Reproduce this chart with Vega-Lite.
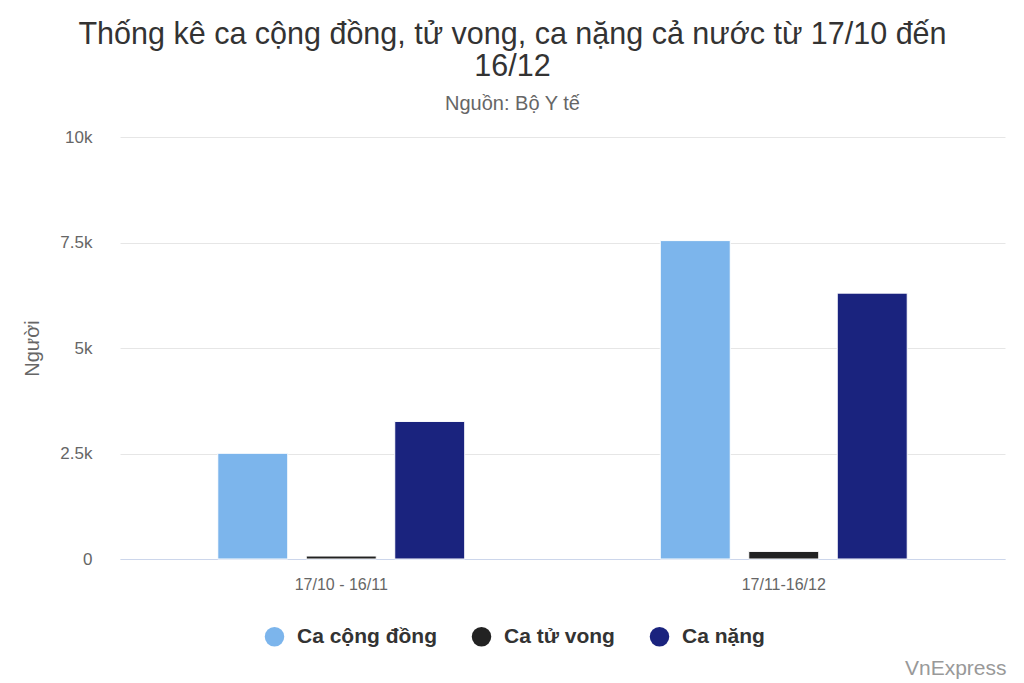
{
  "$schema": "https://vega.github.io/schema/vega-lite/v6.json",
  "width": 885,
  "height": 422,
  "autosize": {"type": "none"},
  "padding": {"left": 120, "top": 137, "right": 19, "bottom": 124},
  "background": "#ffffff",
  "config": {"font": "Liberation Sans", "view": {"stroke": null}},
  "title": {
    "text": ["Thống kê ca cộng đồng, tử vong, ca nặng cả nước từ 17/10 đến", "16/12"],
    "subtitle": "Nguồn: Bộ Y tế",
    "anchor": "middle",
    "dx": -50,
    "font": "Liberation Sans",
    "fontSize": 30.5,
    "fontWeight": "normal",
    "color": "#333333",
    "lineHeight": 32,
    "subtitleFont": "Liberation Sans",
    "subtitleFontSize": 20,
    "subtitleColor": "#666666",
    "subtitlePadding": 12,
    "offset": 14
  },
  "data": {
    "values": [
      {"period": "17/10 - 16/11", "series": "Ca cộng đồng", "value": 2505},
      {"period": "17/10 - 16/11", "series": "Ca tử vong", "value": 70},
      {"period": "17/10 - 16/11", "series": "Ca nặng", "value": 3260},
      {"period": "17/11-16/12", "series": "Ca cộng đồng", "value": 7545},
      {"period": "17/11-16/12", "series": "Ca tử vong", "value": 180},
      {"period": "17/11-16/12", "series": "Ca nặng", "value": 6300}
    ]
  },
  "mark": {"type": "bar", "stroke": "#ffffff", "strokeWidth": 1},
  "encoding": {
    "x": {
      "field": "period",
      "type": "nominal",
      "sort": ["17/10 - 16/11", "17/11-16/12"],
      "scale": {"paddingInner": 0.042, "paddingOuter": 0.021},
      "axis": {
        "labelAngle": 0,
        "labelFontSize": 16,
        "labelColor": "#666666",
        "labelPadding": 17,
        "ticks": false,
        "domainColor": "#ccd6eb",
        "domainWidth": 1,
        "grid": false,
        "title": "VnExpress",
        "titleFontSize": 21,
        "titleFontWeight": "normal",
        "titleColor": "#999999",
        "titleAnchor": "end",
        "titleAlign": "right",
        "titleBaseline": "alphabetic",
        "titleX": 886,
        "titleY": 115
      }
    },
    "xOffset": {
      "field": "series",
      "type": "nominal",
      "sort": ["Ca cộng đồng", "Ca tử vong", "Ca nặng"],
      "scale": {"paddingInner": 0.209, "paddingOuter": 1}
    },
    "y": {
      "field": "value",
      "type": "quantitative",
      "scale": {"domain": [0, 10000], "nice": false},
      "axis": {
        "values": [0, 2500, 5000, 7500, 10000],
        "labelExpr": "datum.value == 0 ? '0' : (datum.value / 1000) + 'k'",
        "labelFontSize": 17,
        "labelColor": "#666666",
        "labelPadding": 28,
        "ticks": false,
        "domain": false,
        "gridColor": "#e6e6e6",
        "gridWidth": 1,
        "title": "Người",
        "titleFontSize": 20,
        "titleFontWeight": "normal",
        "titleColor": "#666666",
        "titlePadding": 17
      }
    },
    "color": {
      "field": "series",
      "type": "nominal",
      "sort": ["Ca cộng đồng", "Ca tử vong", "Ca nặng"],
      "scale": {
        "domain": ["Ca cộng đồng", "Ca tử vong", "Ca nặng"],
        "range": ["#7cb5ec", "#222222", "#1a237e"]
      },
      "legend": {
        "title": null,
        "orient": "none",
        "direction": "horizontal",
        "legendX": 144,
        "legendY": 489,
        "padding": 0,
        "symbolType": "circle",
        "symbolSize": 380,
        "symbolStrokeWidth": 0,
        "labelFontSize": 21,
        "labelFontWeight": "bold",
        "labelColor": "#333333",
        "labelOffset": 12,
        "columnPadding": 34
      }
    }
  }
}
